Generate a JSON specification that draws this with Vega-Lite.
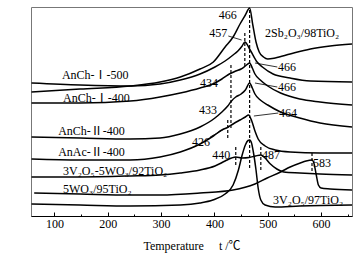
{
  "$schema": "https://vega.github.io/schema/vega-lite/v6.json",
  "width": 321,
  "height": 209,
  "autosize": {"type": "none"},
  "padding": {"left": 31, "top": 7, "right": 1, "bottom": 40},
  "config": {
    "view": {"stroke": "#777", "strokeWidth": 1},
    "font": "Liberation Serif, Noto Sans CJK SC",
    "axis": {"labelFont": "Liberation Serif, Noto Sans CJK SC", "titleFont": "Liberation Serif, Noto Sans CJK SC"},
    "text": {"font": "Liberation Serif, Noto Sans CJK SC", "fontSize": 12, "color": "black"}
  },
  "datasets": {
    "curves": [
      {"c": "2Sb", "t": 57, "s": 124}, {"c": "2Sb", "t": 148, "s": 127}, {"c": "2Sb", "t": 242, "s": 130}, {"c": "2Sb", "t": 298, "s": 134}, {"c": "2Sb", "t": 336, "s": 139}, {"c": "2Sb", "t": 373, "s": 147}, {"c": "2Sb", "t": 398, "s": 154}, {"c": "2Sb", "t": 420, "s": 169}, {"c": "2Sb", "t": 435, "s": 179}, {"c": "2Sb", "t": 448, "s": 192}, {"c": "2Sb", "t": 458, "s": 201}, {"c": "2Sb", "t": 466, "s": 208}, {"c": "2Sb", "t": 472, "s": 191}, {"c": "2Sb", "t": 478, "s": 174}, {"c": "2Sb", "t": 484, "s": 164}, {"c": "2Sb", "t": 492, "s": 159}, {"c": "2Sb", "t": 500, "s": 157}, {"c": "2Sb", "t": 514, "s": 158}, {"c": "2Sb", "t": 542, "s": 162}, {"c": "2Sb", "t": 580, "s": 167}, {"c": "2Sb", "t": 617, "s": 170}, {"c": "2Sb", "t": 658, "s": 172},
      {"c": "I500", "t": 57, "s": 133}, {"c": "I500", "t": 148, "s": 131}, {"c": "I500", "t": 242, "s": 130}, {"c": "I500", "t": 298, "s": 132}, {"c": "I500", "t": 336, "s": 136}, {"c": "I500", "t": 373, "s": 142}, {"c": "I500", "t": 401, "s": 149}, {"c": "I500", "t": 420, "s": 155}, {"c": "I500", "t": 435, "s": 161}, {"c": "I500", "t": 444, "s": 165}, {"c": "I500", "t": 452, "s": 170}, {"c": "I500", "t": 457, "s": 174}, {"c": "I500", "t": 467, "s": 166}, {"c": "I500", "t": 480, "s": 154}, {"c": "I500", "t": 490, "s": 149}, {"c": "I500", "t": 510, "s": 142}, {"c": "I500", "t": 542, "s": 138}, {"c": "I500", "t": 580, "s": 135}, {"c": "I500", "t": 658, "s": 134},
      {"c": "I400", "t": 57, "s": 113}, {"c": "I400", "t": 148, "s": 113}, {"c": "I400", "t": 242, "s": 115}, {"c": "I400", "t": 298, "s": 119}, {"c": "I400", "t": 336, "s": 123}, {"c": "I400", "t": 373, "s": 128}, {"c": "I400", "t": 401, "s": 133}, {"c": "I400", "t": 414, "s": 137}, {"c": "I400", "t": 425, "s": 141}, {"c": "I400", "t": 432, "s": 143}, {"c": "I400", "t": 440, "s": 145}, {"c": "I400", "t": 450, "s": 147}, {"c": "I400", "t": 458, "s": 150}, {"c": "I400", "t": 466, "s": 153}, {"c": "I400", "t": 471, "s": 148}, {"c": "I400", "t": 476, "s": 142}, {"c": "I400", "t": 486, "s": 136}, {"c": "I400", "t": 500, "s": 130}, {"c": "I400", "t": 524, "s": 123}, {"c": "I400", "t": 560, "s": 117}, {"c": "I400", "t": 598, "s": 114}, {"c": "I400", "t": 658, "s": 111},
      {"c": "II400", "t": 57, "s": 79}, {"c": "II400", "t": 148, "s": 78}, {"c": "II400", "t": 242, "s": 77}, {"c": "II400", "t": 298, "s": 78}, {"c": "II400", "t": 336, "s": 82}, {"c": "II400", "t": 373, "s": 89}, {"c": "II400", "t": 401, "s": 98}, {"c": "II400", "t": 414, "s": 104}, {"c": "II400", "t": 425, "s": 110}, {"c": "II400", "t": 432, "s": 115}, {"c": "II400", "t": 440, "s": 119}, {"c": "II400", "t": 450, "s": 122}, {"c": "II400", "t": 458, "s": 126}, {"c": "II400", "t": 466, "s": 133}, {"c": "II400", "t": 471, "s": 128}, {"c": "II400", "t": 476, "s": 122}, {"c": "II400", "t": 486, "s": 116}, {"c": "II400", "t": 500, "s": 111}, {"c": "II400", "t": 524, "s": 104}, {"c": "II400", "t": 560, "s": 98}, {"c": "II400", "t": 598, "s": 93}, {"c": "II400", "t": 658, "s": 89},
      {"c": "Ac400", "t": 57, "s": 57}, {"c": "Ac400", "t": 148, "s": 56}, {"c": "Ac400", "t": 242, "s": 56}, {"c": "Ac400", "t": 298, "s": 59}, {"c": "Ac400", "t": 336, "s": 64}, {"c": "Ac400", "t": 373, "s": 72}, {"c": "Ac400", "t": 398, "s": 80}, {"c": "Ac400", "t": 414, "s": 86}, {"c": "Ac400", "t": 426, "s": 89}, {"c": "Ac400", "t": 435, "s": 92}, {"c": "Ac400", "t": 448, "s": 96}, {"c": "Ac400", "t": 458, "s": 99}, {"c": "Ac400", "t": 464, "s": 101}, {"c": "Ac400", "t": 470, "s": 95}, {"c": "Ac400", "t": 476, "s": 85}, {"c": "Ac400", "t": 482, "s": 77}, {"c": "Ac400", "t": 495, "s": 70}, {"c": "Ac400", "t": 514, "s": 66}, {"c": "Ac400", "t": 542, "s": 64}, {"c": "Ac400", "t": 598, "s": 63}, {"c": "Ac400", "t": 658, "s": 63},
      {"c": "VW", "t": 57, "s": 39}, {"c": "VW", "t": 148, "s": 39}, {"c": "VW", "t": 242, "s": 40}, {"c": "VW", "t": 298, "s": 41}, {"c": "VW", "t": 336, "s": 43}, {"c": "VW", "t": 373, "s": 46}, {"c": "VW", "t": 401, "s": 50}, {"c": "VW", "t": 420, "s": 55}, {"c": "VW", "t": 432, "s": 58}, {"c": "VW", "t": 440, "s": 59}, {"c": "VW", "t": 452, "s": 58}, {"c": "VW", "t": 465, "s": 58.5}, {"c": "VW", "t": 477, "s": 60}, {"c": "VW", "t": 487, "s": 61}, {"c": "VW", "t": 495, "s": 58}, {"c": "VW", "t": 505, "s": 52}, {"c": "VW", "t": 517, "s": 47}, {"c": "VW", "t": 530, "s": 44}, {"c": "VW", "t": 560, "s": 43}, {"c": "VW", "t": 598, "s": 42}, {"c": "VW", "t": 658, "s": 41},
      {"c": "W", "t": 62, "s": 23}, {"c": "W", "t": 148, "s": 22}, {"c": "W", "t": 242, "s": 21}, {"c": "W", "t": 298, "s": 21}, {"c": "W", "t": 373, "s": 23}, {"c": "W", "t": 435, "s": 26}, {"c": "W", "t": 476, "s": 32}, {"c": "W", "t": 499, "s": 38}, {"c": "W", "t": 524, "s": 44}, {"c": "W", "t": 542, "s": 49}, {"c": "W", "t": 561, "s": 53}, {"c": "W", "t": 572, "s": 55}, {"c": "W", "t": 583, "s": 56}, {"c": "W", "t": 587, "s": 52}, {"c": "W", "t": 591, "s": 41}, {"c": "W", "t": 595, "s": 31}, {"c": "W", "t": 600, "s": 28}, {"c": "W", "t": 617, "s": 27}, {"c": "W", "t": 658, "s": 26},
      {"c": "V", "t": 57, "s": 12}, {"c": "V", "t": 148, "s": 11}, {"c": "V", "t": 242, "s": 10}, {"c": "V", "t": 336, "s": 11}, {"c": "V", "t": 373, "s": 13}, {"c": "V", "t": 397, "s": 16}, {"c": "V", "t": 420, "s": 22}, {"c": "V", "t": 435, "s": 31}, {"c": "V", "t": 445, "s": 46}, {"c": "V", "t": 452, "s": 61}, {"c": "V", "t": 458, "s": 71}, {"c": "V", "t": 463, "s": 75.5}, {"c": "V", "t": 466, "s": 76}, {"c": "V", "t": 469, "s": 74}, {"c": "V", "t": 473, "s": 64}, {"c": "V", "t": 478, "s": 46}, {"c": "V", "t": 482, "s": 28}, {"c": "V", "t": 487, "s": 16}, {"c": "V", "t": 495, "s": 11}, {"c": "V", "t": 514, "s": 9}, {"c": "V", "t": 560, "s": 10}, {"c": "V", "t": 658, "s": 11}
    ],
    "dashes": [
      {"t": 466, "s1": 206, "s2": 48},
      {"t": 457, "s1": 183, "s2": 149},
      {"t": 431, "s1": 151, "s2": 86},
      {"t": 425, "s1": 96, "s2": 76},
      {"t": 440, "s1": 69, "s2": 49},
      {"t": 487, "s1": 69, "s2": 46},
      {"t": 583, "s1": 63, "s2": 44}
    ],
    "pointers": [
      {"t1": 426, "s1": 180, "t2": 451, "s2": 176},
      {"t1": 476, "s1": 153, "t2": 518, "s2": 149},
      {"t1": 476, "s1": 133, "t2": 518, "s2": 129},
      {"t1": 474, "s1": 100, "t2": 520, "s2": 103},
      {"t1": 392, "s1": 79, "t2": 418, "s2": 87}
    ],
    "labelsCenter": [
      {"t": 425, "s": 201, "txt": "466"},
      {"t": 407, "s": 183, "txt": "457"},
      {"t": 390, "s": 133, "txt": "434"},
      {"t": 388, "s": 106, "txt": "433"},
      {"t": 375, "s": 74, "txt": "426"},
      {"t": 413, "s": 61, "txt": "440"}
    ],
    "labelsLeft": [
      {"t": 495, "s": 183, "txt": "2Sb₂O₃/98TiO₂"},
      {"t": 519, "s": 149, "txt": "466"},
      {"t": 519, "s": 129, "txt": "466"},
      {"t": 521, "s": 103, "txt": "464"},
      {"t": 489, "s": 61, "txt": "487"},
      {"t": 585, "s": 53, "txt": "583"},
      {"t": 510, "s": 16, "txt": "3V₂O₅/97TiO₂"},
      {"t": 114, "s": 141, "txt": "AnCh-Ⅰ-500"},
      {"t": 116, "s": 118, "txt": "AnCh-Ⅰ-400"},
      {"t": 107, "s": 85, "txt": "AnCh-Ⅱ-400"},
      {"t": 107, "s": 64, "txt": "AnAc-Ⅱ-400"},
      {"t": 116, "s": 45, "txt": "3V₂O₅-5WO₃/92TiO₂"},
      {"t": 116, "s": 27, "txt": "5WO₃/95TiO₂"}
    ]
  },
  "resolve": {"axis": {"x": "independent"}},
  "layer": [
    {
      "data": {"name": "curves"},
      "mark": {"type": "line", "color": "black", "strokeWidth": 1.5, "interpolate": "monotone"},
      "encoding": {
        "x": {
          "field": "t", "type": "quantitative",
          "scale": {"domain": [56, 658], "nice": false, "zero": false},
          "axis": {
            "values": [100, 200, 300, 400, 500, 600],
            "tickSize": -4, "tickColor": "black", "domainColor": "black",
            "grid": false, "labelFontSize": 12,
            "labelColor": "black", "labelPadding": 6,
            "title": "Temperature\u00a0\u00a0\u00a0\u00a0\u00a0t\u00a0/℃",
            "titleFontSize": 12, "titleFontWeight": "normal", "titleColor": "black", "titlePadding": 11
          }
        },
        "y": {
          "field": "s", "type": "quantitative",
          "scale": {"domain": [0, 209], "nice": false},
          "axis": {
            "title": "TCD signal /(a.u.)", "labels": false, "ticks": false, "domain": false,
            "grid": false, "titleFontSize": 12,
            "titleFontWeight": "normal", "titleColor": "black", "titlePadding": 11
          }
        },
        "detail": {"field": "c"},
        "order": {"field": "t"}
      }
    },
    {
      "data": {"name": "dashes"},
      "mark": {"type": "rule", "color": "black", "strokeWidth": 1.2, "strokeDash": [3, 2]},
      "encoding": {
        "x": {"field": "t", "type": "quantitative",
          "axis": {"orient": "bottom", "values": [150, 250, 350, 450, 550, 650], "tickSize": -2,
            "tickColor": "black", "labels": false, "domain": false, "grid": false, "title": null}},
        "y": {"field": "s1", "type": "quantitative", "axis": null},
        "y2": {"field": "s2"}
      }
    },
    {
      "data": {"name": "pointers"},
      "mark": {"type": "rule", "color": "black", "strokeWidth": 0.8},
      "encoding": {
        "x": {"field": "t1", "type": "quantitative", "axis": null},
        "x2": {"field": "t2"},
        "y": {"field": "s1", "type": "quantitative", "axis": null},
        "y2": {"field": "s2"}
      }
    },
    {
      "data": {"name": "labelsCenter"},
      "mark": {"type": "text", "align": "center", "baseline": "middle"},
      "encoding": {
        "x": {"field": "t", "type": "quantitative", "axis": null},
        "y": {"field": "s", "type": "quantitative", "axis": null},
        "text": {"field": "txt"}
      }
    },
    {
      "data": {"name": "labelsLeft"},
      "mark": {"type": "text", "align": "left", "baseline": "middle"},
      "encoding": {
        "x": {"field": "t", "type": "quantitative", "axis": null},
        "y": {"field": "s", "type": "quantitative", "axis": null},
        "text": {"field": "txt"}
      }
    }
  ]
}
